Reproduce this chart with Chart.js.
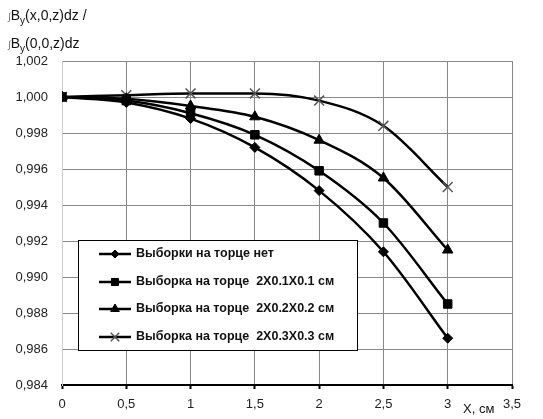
<!DOCTYPE html>
<html>
<head>
<meta charset="utf-8">
<script src="https://cdn.jsdelivr.net/npm/chart.js@4"></script>
<style>
  body { margin: 0; background: #fff; }
  #wrap { position: relative; width: 543px; height: 419px; }
  #ytitle { position: absolute; left: 8px; top: 4px; font: 14px "Liberation Sans", sans-serif; line-height: 22px; color: #111; }
  #ytitle sub { font-size: 10px; }
  #ytitle .int { font-size: 10px; color: #777; }
  #xtitle { position: absolute; left: 463px; top: 401px; font: 13px "Liberation Sans", sans-serif; color: #111; }
</style>
</head>
<body>
<div id="wrap">
  <canvas id="chart" width="543" height="419"></canvas>
  <div id="ytitle"><span class="int">∫</span>B<sub>y</sub>(x,0,z)dz /<br><span class="int">∫</span>B<sub>y</sub>(0,0,z)dz</div>
  <div id="xtitle">X, см</div>
</div>
<script>
var xValues = [0, 0.5, 1, 1.5, 2, 2.5, 3];
var seriesNames = [
  "Выборки на торце нет",
  "Выборка на торце  2X0.1X0.1 см",
  "Выборка на торце  2X0.2X0.2 см",
  "Выборка на торце  2X0.3X0.3 см"
];
var noChamfer = [1.0000, 0.9997, 0.9988, 0.9972, 0.9948, 0.9914, 0.9866];
var chamfer01 = [1.0000, 0.9998, 0.9991, 0.9979, 0.9959, 0.9930, 0.9885];
var chamfer02 = [1.0000, 0.9999, 0.9995, 0.9989, 0.9976, 0.9955, 0.9915];
var chamfer03 = [1.0000, 1.0001, 1.0002, 1.0002, 0.9998, 0.9984, 0.9950];

var styles = [
  { pointStyle: "rectRot", radius: 5, color: "#000" },
  { pointStyle: "rect", radius: 6, color: "#000" },
  { pointStyle: "triangle", radius: 6, color: "#000" },
  { pointStyle: "crossRot", radius: 7, color: "#555" }
];

function toPoints(vals) {
  return vals.map(function (v, i) { return { x: xValues[i], y: v }; });
}

var allSeries = [noChamfer, chamfer01, chamfer02, chamfer03];
var datasets = allSeries.map(function (vals, i) {
  return {
    label: seriesNames[i],
    data: toPoints(vals),
    borderColor: "#000",
    borderWidth: 2.5,
    cubicInterpolationMode: "monotone",
    pointStyle: styles[i].pointStyle,
    pointRadius: styles[i].radius,
    pointBackgroundColor: styles[i].color,
    pointBorderColor: styles[i].color,
    pointBorderWidth: i == 3 ? 1.5 : 1
  };
});

// legend drawn inside the plot area
var boxLegend = {
  id: "boxLegend",
  afterDraw: function (chart) {
    var c = chart.ctx;
    var x0 = 78, y0 = 240, w = 279, h = 110;
    c.save();
    c.fillStyle = "#fff";
    c.fillRect(x0, y0, w, h);
    c.strokeStyle = "#000";
    c.lineWidth = 1;
    c.strokeRect(x0 + 0.5, y0 + 0.5, w, h);
    var rows = [254, 282, 309, 337];
    c.font = "bold 12.5px 'Liberation Sans', sans-serif";
    c.textBaseline = "middle";
    rows.forEach(function (y, i) {
      c.strokeStyle = "#000";
      c.lineWidth = 2.5;
      c.beginPath();
      c.moveTo(99, y);
      c.lineTo(131, y);
      c.stroke();
      c.fillStyle = styles[i].color;
      c.strokeStyle = styles[i].color;
      c.lineWidth = i == 3 ? 1.5 : 1;
      Chart.helpers.drawPoint(c, { pointStyle: styles[i].pointStyle, radius: styles[i].radius - 1, rotation: 0, borderWidth: 1 }, 115, y);
      c.fillStyle = "#111";
      c.fillText(seriesNames[i], 136, y);
    });
    c.restore();
  }
};

new Chart(document.getElementById("chart"), {
  type: "line",
  data: { datasets: datasets },
  plugins: [boxLegend],
  options: {
    responsive: false,
    animation: false,
    layout: { padding: { left: 0, top: 61, right: 31, bottom: 0 } },
    plugins: { legend: { display: false }, tooltip: { enabled: false } },
    scales: {
      x: {
        type: "linear",
        min: 0,
        max: 3.5,
        afterFit: function (s) { s.height = 34; },
        border: { color: "#000", width: 2 },
        grid: { color: "#888", borderDash: [2, 1], tickColor: "#000", tickLength: 4, tickWidth: 2 },
        ticks: {
          stepSize: 0.5,
          padding: 8,
          color: "#222",
          font: { family: "'Liberation Sans', sans-serif", size: 13 },
          callback: function (v) { return String(v).replace(".", ","); }
        }
      },
      y: {
        min: 0.984,
        max: 1.002,
        afterFit: function (s) { s.width = 62; },
        border: { color: "#ccc", width: 1 },
        grid: { color: "#888", borderDash: [2, 1], drawTicks: false },
        ticks: {
          stepSize: 0.002,
          padding: 14,
          color: "#222",
          font: { family: "'Liberation Sans', sans-serif", size: 13 },
          callback: function (v) { return v.toFixed(3).replace(".", ","); }
        }
      }
    }
  }
});
</script>
</body>
</html>
